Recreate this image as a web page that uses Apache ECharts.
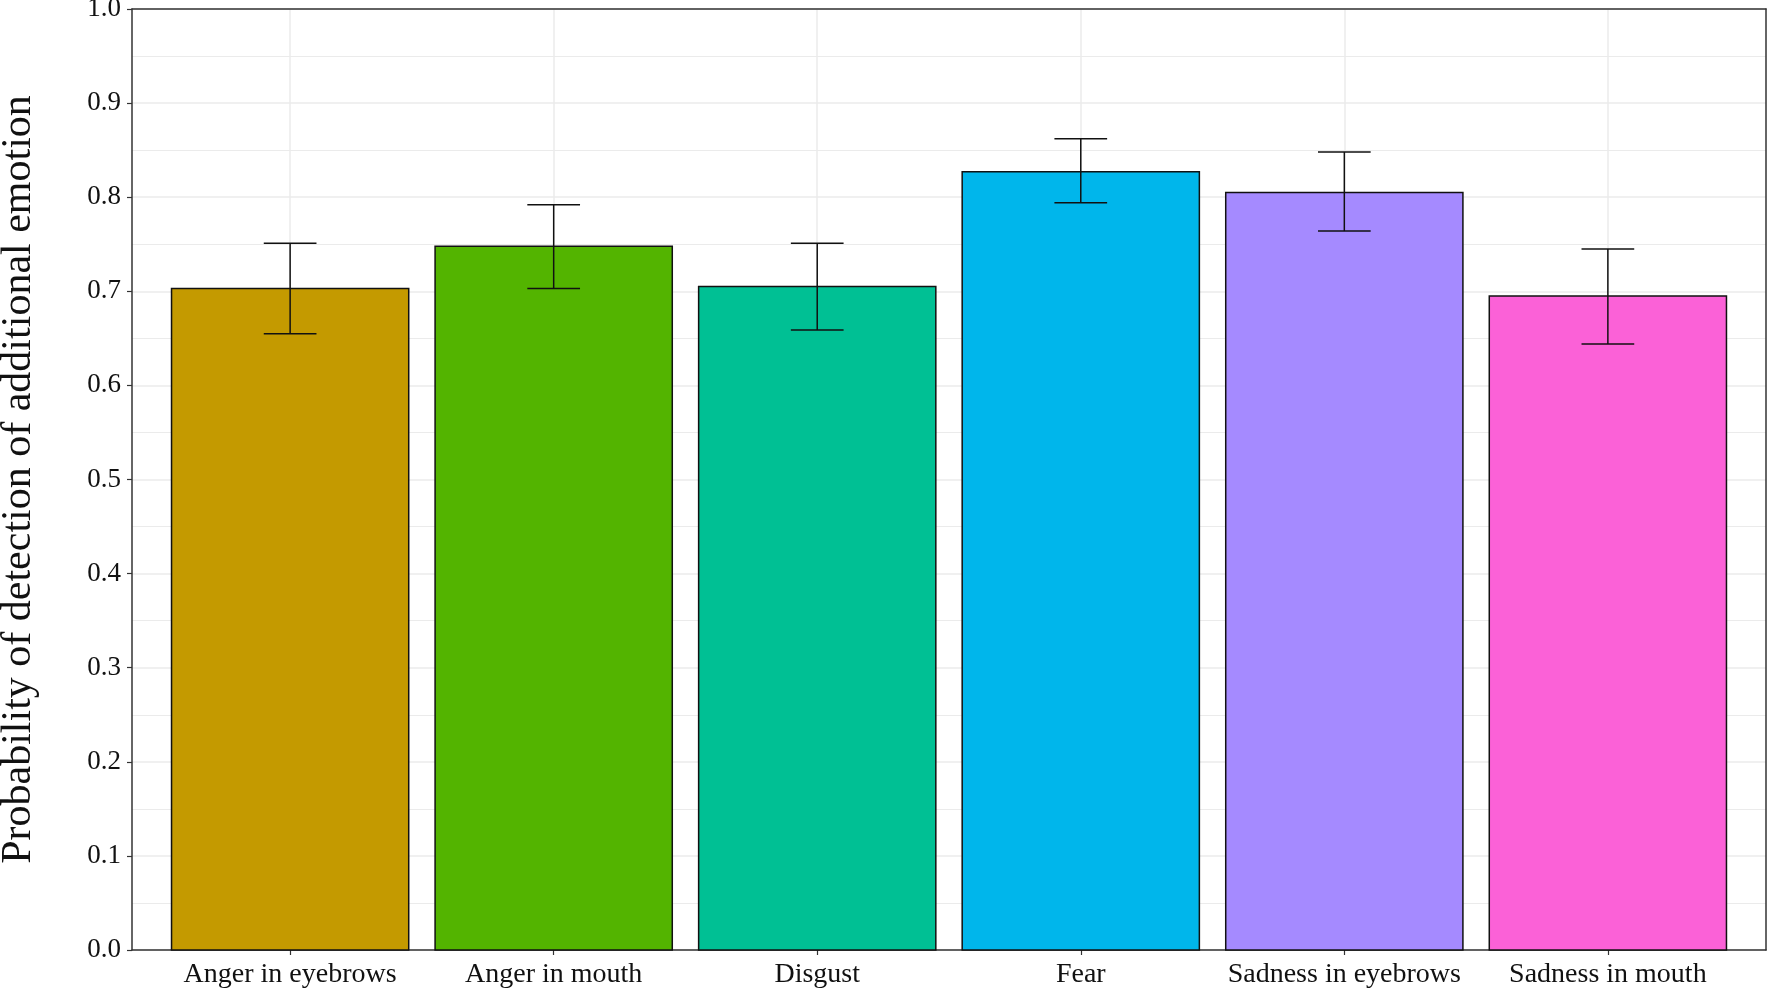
<!DOCTYPE html>
<html>
<head>
<meta charset="utf-8">
<script src="https://cdn.jsdelivr.net/npm/echarts@6/dist/echarts.min.js"></script>
<style>
html,body{margin:0;padding:0;background:#fff;}
#chart{width:1770px;height:990px;}
</style>
</head>
<body>
<div id="chart"></div>
<script>
const categories = ['Anger in eyebrows','Anger in mouth','Disgust','Fear','Sadness in eyebrows','Sadness in mouth'];
const means = [0.703, 0.748, 0.705, 0.827, 0.805, 0.695];
const lower = [0.655, 0.703, 0.659, 0.794, 0.764, 0.644];
const upper = [0.751, 0.792, 0.751, 0.862, 0.848, 0.745];
const barColors = ['#C49A00','#53B400','#00C094','#00B6EB','#A58AFF','#FB61D7'];

const positions = categories.map((c,i)=>i+1);
const barData = positions.map((p,i)=>[p, means[i]]);
const errData = positions.map((p,i)=>[p, lower[i], upper[i]]);

const FONT = 'Liberation Serif';
const TXT = '#111';
const chart = echarts.init(document.getElementById('chart'));
chart.setOption({
  animation:false,
  backgroundColor:'#fff',
  grid:{left:132,right:4,top:9,bottom:40,show:false,outerBoundsMode:'none',containLabel:false},
  xAxis:[{
    type:'value', min:0.4, max:6.6,
    axisLine:{show:true, onZero:false, lineStyle:{color:'#333',width:1.5}},
    axisTick:{show:true, customValues:positions, length:5, lineStyle:{color:'#333',width:1.2}},
    axisLabel:{customValues:positions, formatter:v=>categories[Math.round(v)-1]||'', margin:11,
      fontFamily:FONT, fontSize:28, color:TXT},
    splitLine:{show:true, lineStyle:{color:'#EBEBEB',width:1.5}}
  },{
    type:'value', min:0.4, max:6.6, position:'top',
    axisLine:{show:true, onZero:false, lineStyle:{color:'#333',width:1.5}},
    axisTick:{show:false}, axisLabel:{show:false}, splitLine:{show:false}
  }],
  yAxis:[{
    type:'value', min:0, max:1, interval:0.1,
    name:'Probability of detection of additional emotion',
    nameLocation:'middle', nameGap:92, nameRotate:90,
    nameTextStyle:{fontFamily:FONT, fontSize:42, color:TXT},
    axisLine:{show:true, onZero:false, lineStyle:{color:'#333',width:1.5}},
    axisTick:{show:true, length:5, lineStyle:{color:'#333',width:1.2}},
    axisLabel:{formatter:v=>v.toFixed(1), margin:11, fontFamily:FONT, fontSize:27, color:TXT},
    splitLine:{show:true, lineStyle:{color:'#EBEBEB',width:1.5}},
    minorTick:{show:false, splitNumber:2},
    minorSplitLine:{show:true, lineStyle:{color:'#EBEBEB',width:1.2}}
  },{
    type:'value', min:0, max:1, position:'right',
    axisLine:{show:true, onZero:false, lineStyle:{color:'#333',width:1.5}},
    axisTick:{show:false}, axisLabel:{show:false}, splitLine:{show:false}
  }],
  series:[
    {
      type:'custom', data:barData, z:2,
      renderItem:function(params, api){
        const x = api.value(0), v = api.value(1);
        const p0 = api.coord([x-0.45, v]);
        const p1 = api.coord([x+0.45, 0]);
        return {type:'rect', shape:{x:p0[0], y:p0[1], width:p1[0]-p0[0], height:p1[1]-p0[1]},
          style:{fill:barColors[params.dataIndex], stroke:'#111', lineWidth:1.5}};
      }
    },
    {
      type:'custom', data:errData, z:3,
      renderItem:function(params, api){
        const x = api.value(0), lo = api.value(1), hi = api.value(2);
        const a = api.coord([x, hi]), b = api.coord([x, lo]);
        const l1 = api.coord([x-0.1, hi]), r1 = api.coord([x+0.1, hi]);
        const l2 = api.coord([x-0.1, lo]), r2 = api.coord([x+0.1, lo]);
        const st = {stroke:'#111', lineWidth:1.5};
        return {type:'group', children:[
          {type:'line', shape:{x1:a[0],y1:a[1],x2:b[0],y2:b[1]}, style:st},
          {type:'line', shape:{x1:l1[0],y1:l1[1],x2:r1[0],y2:r1[1]}, style:st},
          {type:'line', shape:{x1:l2[0],y1:l2[1],x2:r2[0],y2:r2[1]}, style:st}
        ]};
      }
    }
  ]
});
</script>
</body>
</html>
